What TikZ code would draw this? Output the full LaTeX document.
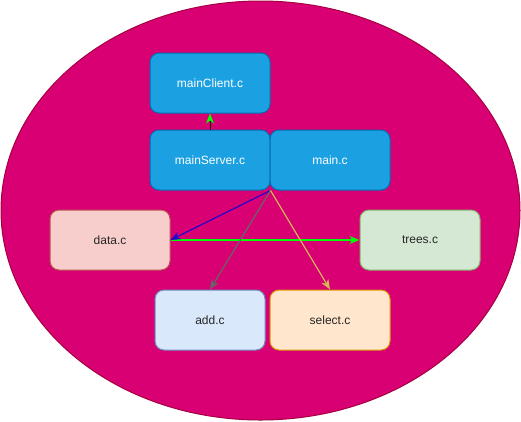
\documentclass[tikz,border=0pt]{standalone}
\usepackage{fontspec}
\setmainfont{Liberation Sans}
\usetikzlibrary{arrows.meta}
\definecolor{magfill}{HTML}{D80073}
\definecolor{magline}{HTML}{A50040}
\definecolor{bluefill}{HTML}{1BA1E2}
\definecolor{blueline}{HTML}{006EAF}
\definecolor{redfill}{HTML}{F8CECC}
\definecolor{redline}{HTML}{B85450}
\definecolor{greenfill}{HTML}{D5E8D4}
\definecolor{greenline}{HTML}{82B366}
\definecolor{lbluefill}{HTML}{DAE8FC}
\definecolor{lblueline}{HTML}{6C8EBF}
\definecolor{orfill}{HTML}{FFE6CC}
\definecolor{orline}{HTML}{D79B00}
\definecolor{arrblue}{HTML}{2A00CC}
\definecolor{arrgray}{HTML}{666666}
\definecolor{arryel}{HTML}{D6B656}
\definecolor{arrgreen}{HTML}{00FF00}
\tikzset{
  box/.style={draw, line width=1pt, rounded corners=9pt, minimum width=120pt, minimum height=60pt, inner sep=0pt, font=\fontsize{12pt}{14pt}\selectfont, text=black!85},
  bluebox/.style={box, fill=bluefill, draw=blueline, text=white},
  tip/.style={-{Stealth[length=10pt,width=8pt,inset=3pt]}},
}
\begin{document}
\begin{tikzpicture}[x=1pt,y=-1pt]
\useasboundingbox (0,0) rectangle (521,421);
\fill[white] (0,0) rectangle (521,421);
\draw[fill=magfill, draw=magline, line width=1pt] (260.5,210.5) ellipse [x radius=259.5, y radius=209.5];
\node[bluebox] (mc) at (210,83) {mainClient.c};
\node[bluebox] (ms) at (210,160) {mainServer.c};
\node[bluebox] (mn) at (330,160) {main.c};
\node[box, fill=redfill, draw=redline] (data) at (110,240) {data.c};
\node[box, fill=greenfill, draw=greenline] (trees) at (420,240) {trees.c};
\node[box, fill=lbluefill, draw=lblueline, minimum width=110pt] (add) at (210,320) {add.c};
\node[box, fill=orfill, draw=orline] (sel) at (330,320) {select.c};
\coordinate (split) at (ms.south east);
\draw[line width=1pt, draw=black, -{Stealth[length=10pt,width=8pt,inset=3pt,color=arrgreen]}] (ms.north) -- (mc.south);
\draw[tip, line width=2pt, draw=arrgreen] (data.east) -- (trees.west);
\draw[tip, line width=1.2pt, draw=arrblue] (split) -- (data.east);
\draw[tip, line width=1.2pt, draw=arrgray] (split) -- (add.north);
\draw[tip, line width=1.2pt, draw=arryel] (split) -- (sel.north);
\end{tikzpicture}
\end{document}
